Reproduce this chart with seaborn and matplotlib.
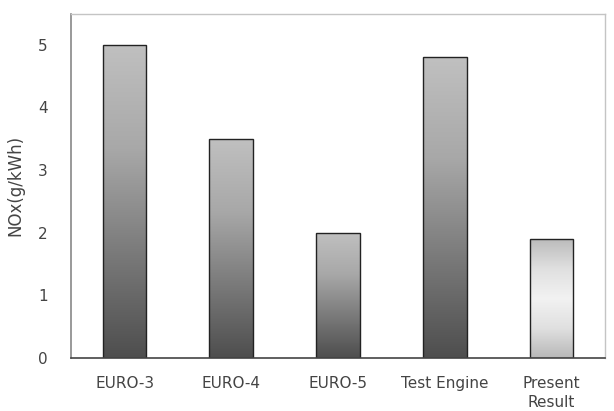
import numpy as np
import pandas as pd
import matplotlib
matplotlib.use("Agg")
import matplotlib.pyplot as plt
from matplotlib.colors import LinearSegmentedColormap
import seaborn as sns

categories = ["EURO-3", "EURO-4", "EURO-5", "Test Engine", "Present\nResult"]
nox = [5.0, 3.5, 2.0, 4.8, 1.9]
gradient_style = ["dark", "dark", "dark", "dark", "light"]

sns.set_style("white")
plt.rcParams["font.family"] = ["DejaVu Sans"]

df = pd.DataFrame({"cat": categories, "nox": nox})

fig = plt.figure(figsize=(6.14, 4.11), dpi=100)
ax = fig.add_axes([0.116, 0.129, 0.869, 0.838])

sns.barplot(data=df, x="cat", y="nox", ax=ax, width=0.41, color="#888888",
            edgecolor="#222222", linewidth=1.0)

dark_cmap = LinearSegmentedColormap.from_list("d", ["#4e4e4e", "#7a7a7a", "#a8a8a8", "#c0c0c0"])
light_cmap = LinearSegmentedColormap.from_list("l", ["#b8b8b8", "#e0e0e0", "#f2f2f2", "#e0e0e0", "#bcbcbc"])

for patch, style in zip(ax.patches, gradient_style):
    x0, y0 = patch.get_x(), patch.get_y()
    w, h = patch.get_width(), patch.get_height()
    grad = np.linspace(0, 1, 256).reshape(-1, 1)
    cmap = dark_cmap if style == "dark" else light_cmap
    im = ax.imshow(grad, cmap=cmap, aspect="auto", origin="lower",
                   extent=(x0, x0 + w, y0, y0 + h), zorder=patch.get_zorder() + 0.1)
    im.set_clip_path(patch)
    patch.set_facecolor("none")
    patch.set_zorder(patch.get_zorder() + 0.2)

ax.set_xlim(-0.5, 4.5)
ax.set_ylim(0, 5.5)
ax.set_yticks([0, 1, 2, 3, 4, 5])
ax.set_xlabel("")
ax.set_ylabel("NOx(g/kWh)", fontsize=12, color="#444444", labelpad=10)

ax.set_xticks(range(len(categories)))
ax.set_xticklabels(categories, fontsize=11, color="#444444", linespacing=1.3)
ax.set_xticks([0.5, 1.5, 2.5, 3.5], minor=True)
ax.tick_params(axis="x", which="major", length=0, pad=13)
ax.tick_params(axis="x", which="minor", direction="in", length=4, width=1, color="#555555")
ax.tick_params(axis="y", direction="in", length=3, width=1, color="#777777",
               labelsize=11, labelcolor="#444444", pad=17)

ax.spines["left"].set_color("#888888")
ax.spines["left"].set_linewidth(1.2)
ax.spines["bottom"].set_color("#444444")
ax.spines["bottom"].set_linewidth(1.2)
for side in ["top", "right"]:
    ax.spines[side].set_color("#c4c4c4")
    ax.spines[side].set_linewidth(1.0)

fig.savefig("out.png", dpi=100)
